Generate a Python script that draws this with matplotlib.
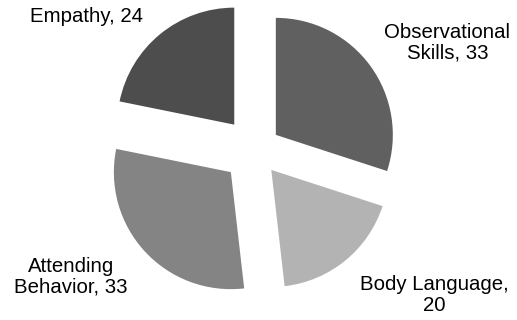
import matplotlib
matplotlib.use('Agg')
import matplotlib.pyplot as plt

names = ['Observational\nSkills', 'Body Language,\n', 'Attending\nBehavior', 'Empathy']
values = [33, 20, 33, 24]
colors = ['#606060', '#b3b3b3', '#848484', '#4d4d4d']
explode = [0.22, 0.22, 0.28, 0.28]
label_pos = [(1.645, 0.915), (1.53, -1.239), (-1.573, -1.085), (-1.444, 1.137)]

plt.rcParams['font.family'] = ['Liberation Sans', 'DejaVu Sans']

fig = plt.figure(figsize=(5.17, 3.2), dpi=100)
ax = fig.add_axes([0, 0, 1, 1])

ax.pie(values, colors=colors, startangle=90, counterclock=False,
       explode=explode, radius=1.0,
       wedgeprops=dict(linewidth=0))

for name, v, (x, y) in zip(names, values, label_pos):
    if name.endswith('\n'):
        txt = f'{name}{v}'
    else:
        txt = f'{name}, {v}'
    ax.text(x, y, txt, ha='center', va='center', multialignment='center',
            fontsize=14.7, color='black', linespacing=1.1)

# 117 px per data unit, pie centre at pixel (255, 150)
s = 117.0
ax.set_aspect('auto')
ax.set_xlim(-255 / s, (517 - 255) / s)
ax.set_ylim(-(320 - 150) / s, 150 / s)
ax.axis('off')

fig.savefig('out.png', dpi=100)
